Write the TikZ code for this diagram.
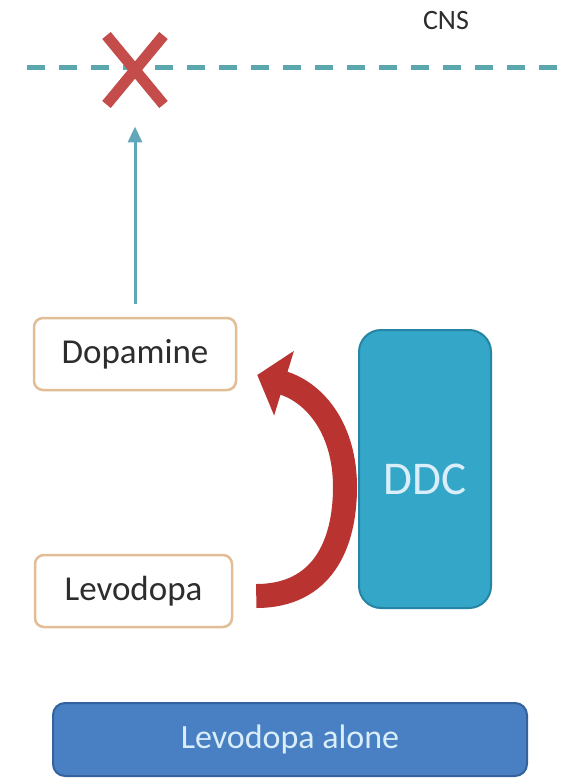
\documentclass[tikz,border=0pt]{standalone}
\usepackage{fontspec}
\setmainfont{Carlito}
\usepackage{xcolor}
\usepackage{tikz}
\usetikzlibrary{arrows.meta, positioning, calc, shapes.misc}
\definecolor{tan}{RGB}{226,190,150}
\definecolor{ink}{RGB}{45,45,45}
\definecolor{ddcblue}{RGB}{52,166,200}
\definecolor{ddcedge}{RGB}{38,132,165}
\definecolor{barblue}{RGB}{72,128,195}
\definecolor{baredge}{RGB}{52,98,158}
\definecolor{paletext}{RGB}{218,238,250}
\definecolor{brick}{RGB}{185,52,48}
\definecolor{crossred}{RGB}{196,76,74}
\definecolor{teal}{RGB}{92,166,176}
\definecolor{skyline}{RGB}{98,166,186}

\begin{document}
\begin{tikzpicture}[x=1pt, y=-1pt, >=Stealth]
  \tikzstyle{box} = [rectangle, draw=tan, fill=white, line width=2.5pt, rounded corners=9pt, minimum height=72pt, inner sep=0pt, font=\fontsize{35}{40}\selectfont\color{ink}]
  \tikzstyle{ddcbox} = [rectangle, draw=ddcedge, fill=ddcblue, line width=2pt, rounded corners=22pt, minimum width=132pt, minimum height=278pt, inner sep=0pt, font=\fontsize{47}{52}\selectfont\color{paletext}]
  \tikzstyle{bar} = [rectangle, draw=baredge, fill=barblue, line width=2pt, rounded corners=12pt, minimum width=474pt, minimum height=73pt, inner sep=0pt, font=\fontsize{34}{40}\selectfont\color{paletext}]
  \tikzstyle{barrier} = [draw=teal, line width=5pt, dash pattern=on 18pt off 14pt]
  \tikzstyle{cross} = [cross out, draw=crossred, line width=11pt, minimum width=46pt, minimum height=58pt, inner sep=0pt]
  \tikzstyle{uparrow} = [draw=skyline, line width=3pt, -{Triangle[width=14pt, length=16pt]}]
  \tikzstyle{convert} = [draw=brick, line width=24pt, -{Triangle[width=66pt, length=28pt]}]

  \fill[white] (0,0) rectangle (566,778);
  \useasboundingbox (0,0) rectangle (566,778);

  \node[font=\fontsize{28}{32}\selectfont\color{ink}] (cns) at (446,21) {CNS};

  % barrier line with the blocked crossing
  \coordinate (bbbL) at (27,68);
  \coordinate (bbbR) at (566,68);
  \draw[barrier] (bbbL) -- (bbbR);
  \node[cross] (block) at (135,70) {};

  \node[box, minimum width=202pt] (dop) at (135,354) {Dopamine};
  \node[box, minimum width=197pt] (levo) at (133.5,591) {Levodopa};

  \draw[uparrow] ([yshift=13pt]dop.north) -- ([yshift=-22pt]block.south);

  \draw[convert] ([xshift=23pt,yshift=-5pt]levo.east)
    .. controls (322,596) and (345,545) .. (345,487)
    .. controls (345,430) and (316,393) .. ([xshift=20pt,yshift=-21pt]dop.east);

  \node[ddcbox] (ddc) at (425,469) {\raisebox{-10pt}[\height][\depth]{DDC}};

  \node[bar] (alone) at (290,739.5) {Levodopa alone};
\end{tikzpicture}
\end{document}
